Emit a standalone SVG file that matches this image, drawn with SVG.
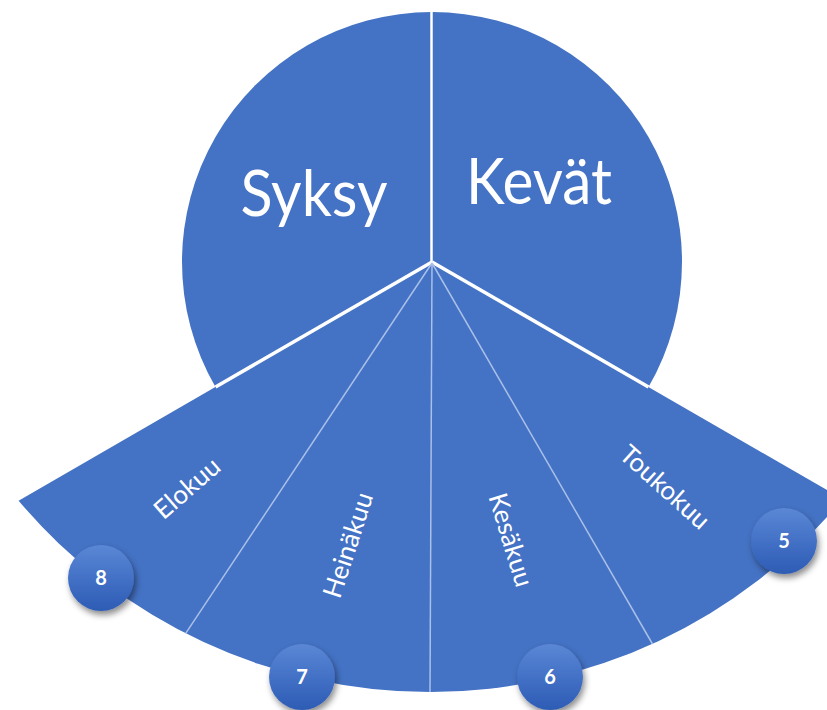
<svg xmlns="http://www.w3.org/2000/svg" width="827" height="710" viewBox="0 0 827 710">
  <style>
    .shape { fill: #4472C4; }
    .sep { stroke: #FFFFFF; stroke-width: 3.5; fill: none; stroke-linecap: butt; }
    .sepv { stroke: #FFFFFF; stroke-width: 2.5; fill: none; }
    .div { stroke: #A9C0E8; stroke-width: 1.5; fill: none; }
    .big { font-family: Lato, "Open Sans", "Liberation Sans", sans-serif; font-size: 64px; fill: #FFFFFF; text-anchor: middle; }
    .month { font-family: Lato, "Open Sans", "Liberation Sans", sans-serif; font-size: 26px; fill: #FFFFFF; text-anchor: middle; }
    .num { font-family: Lato, "Open Sans", "Liberation Sans", sans-serif; font-size: 20px; font-weight: bold; fill: #FFFFFF; text-anchor: middle; }
    .badge { fill: url(#badgeGrad); filter: url(#shadow); }
  </style>
  <defs>
    <linearGradient id="badgeGrad" x1="0" y1="0" x2="0" y2="1">
      <stop offset="0" stop-color="#5B87D5"/>
      <stop offset="0.5" stop-color="#4371C6"/>
      <stop offset="1" stop-color="#2D5CB4"/>
    </linearGradient>
    <filter id="shadow" x="-30%" y="-30%" width="160%" height="170%">
      <feDropShadow dx="2" dy="4" stdDeviation="3" flood-color="#000000" flood-opacity="0.45"/>
    </filter>
  </defs>

  <g id="node-fan">
    <path class="shape" d="M432,262 L842.7,499.1 A538,538 0 0 1 18.6,500.7 Z"/>
  </g>
  <g id="node-syksy">
    <path class="shape" d="M432,262 L215.5,387 A250,250 0 0 1 432,12 Z"/>
    <text class="big" x="314" y="216" textLength="147" lengthAdjust="spacingAndGlyphs">Syksy</text>
  </g>
  <g id="node-kevat">
    <path class="shape" d="M432,262 L432,12 A250,250 0 0 1 648.5,387 Z"/>
    <text class="big" x="539" y="204" textLength="146" lengthAdjust="spacingAndGlyphs">Kevät</text>
  </g>

  <g id="connectors">
    <line class="sepv" x1="431.5" y1="5" x2="431.5" y2="262"/>
    <line class="sep" x1="432" y1="262" x2="215.5" y2="387"/>
    <line class="sep" x1="432" y1="262" x2="648.5" y2="387"/>
    <line class="div" x1="432" y1="263" x2="185.7" y2="633.4"/>
    <line class="div" x1="432" y1="263" x2="430" y2="692"/>
    <line class="div" x1="432" y1="263" x2="652.5" y2="644"/>
  </g>

  <g id="node-elokuu">
    <text class="month" x="187" y="488" dy="0.35em" transform="rotate(-41 187 488)">Elokuu</text>
  </g>
  <g id="node-heinakuu">
    <text class="month" x="348" y="545" dy="0.35em" transform="rotate(-72 348 545)">Heinäkuu</text>
  </g>
  <g id="node-kesakuu">
    <text class="month" x="511" y="540" dy="0.35em" transform="rotate(73 511 540)">Kesäkuu</text>
  </g>
  <g id="node-toukokuu">
    <text class="month" x="665" y="487" dy="0.35em" transform="rotate(42 665 487)">Toukokuu</text>
  </g>

  <g id="badge-8">
    <circle class="badge" cx="101" cy="578" r="33"/>
    <text class="num" x="101" y="585">8</text>
  </g>
  <g id="badge-7">
    <circle class="badge" cx="302" cy="677" r="33"/>
    <text class="num" x="302" y="684">7</text>
  </g>
  <g id="badge-6">
    <circle class="badge" cx="550" cy="677" r="33"/>
    <text class="num" x="550" y="684">6</text>
  </g>
  <g id="badge-5">
    <circle class="badge" cx="784" cy="541" r="33"/>
    <text class="num" x="784" y="548">5</text>
  </g>
</svg>
